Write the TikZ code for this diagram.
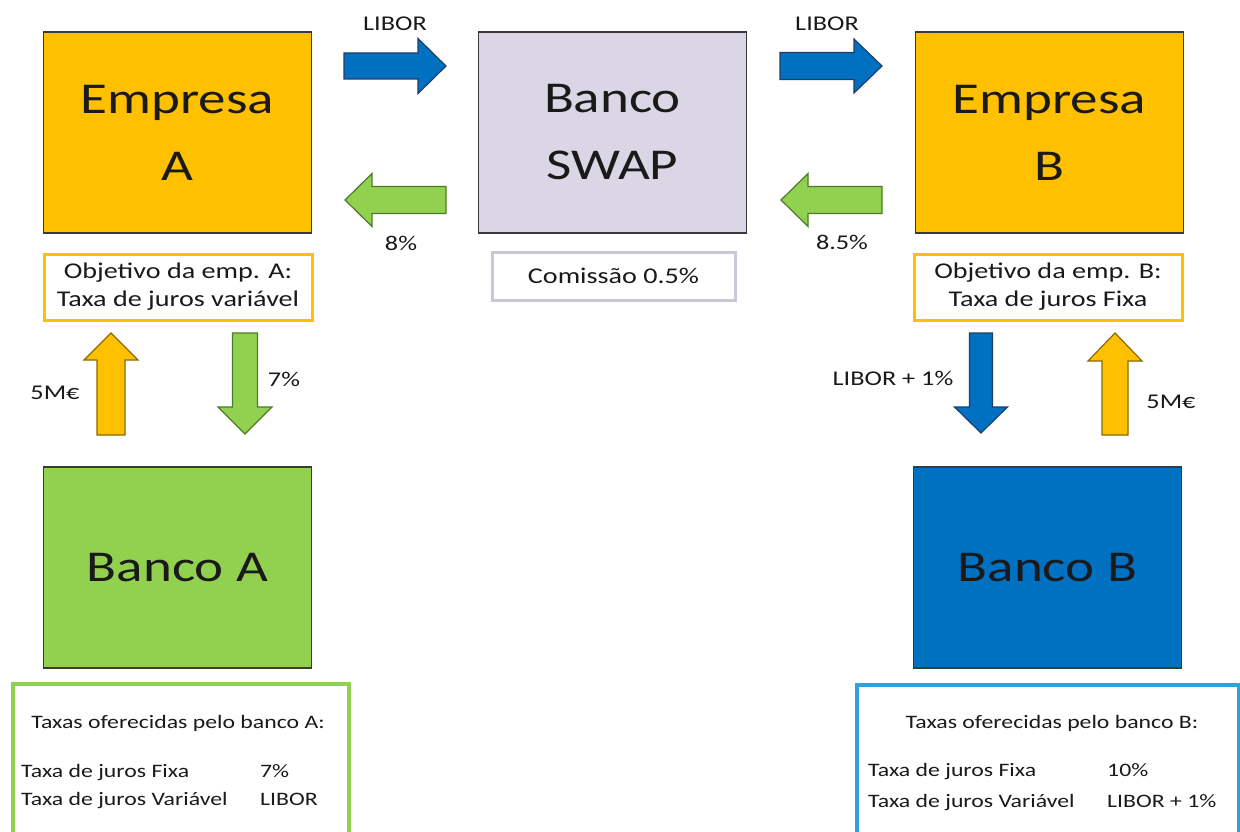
\documentclass[tikz,border=0pt]{standalone}
\usepackage{fontspec}
\setmainfont{Carlito}
\usepackage{graphicx}

% Office palette
\definecolor{gold}{HTML}{FFC000}
\definecolor{goldline}{HTML}{8A6A00}
\definecolor{leaf}{HTML}{92D050}
\definecolor{leafline}{HTML}{4F7A2A}
\definecolor{ocean}{HTML}{0070C0}
\definecolor{oceanline}{HTML}{1F3F6A}
\definecolor{lilac}{HTML}{DAD6E5}
\definecolor{lilacline}{HTML}{CBC7D8}
\definecolor{frame}{HTML}{3A3A3A}
\definecolor{sky}{HTML}{2FA3D9}
\definecolor{ink}{HTML}{1A1A1A}

% slightly widened lettering
\newcommand\wide[1]{\scalebox{1.25}[1]{#1}}

% block arrow: tail point, direction angle, length, shaft half width, head half width, head length, style
\newcommand\blockarrow[7]{%
  \begin{scope}[shift={(#1)},rotate=#2]
    \path[#7] (0,-#4) -- ({#3-#6},-#4) -- ({#3-#6},-#5) -- (#3,0)
      -- ({#3-#6},#5) -- ({#3-#6},#4) -- (0,#4) -- cycle;
  \end{scope}}

\tikzset{
  bigbox/.style={draw=frame, line width=1.6pt, minimum width=268pt, minimum height=201pt,
    inner sep=0pt, align=center, text=ink, font=\fontsize{44}{67}\selectfont},
  goalbox/.style={draw=gold, line width=3pt, minimum width=268pt, minimum height=66pt,
    inner sep=0pt, align=center, text=ink, font=\fontsize{22.5}{28}\selectfont},
  tablebox/.style={line width=4pt, anchor=north west, minimum width=336pt,
    minimum height=170pt, inner sep=0pt},
  lbl/.style={text=ink, inner sep=0pt, font=\fontsize{21}{25}\selectfont},
  row/.style={text=ink, inner sep=0pt, anchor=base west, font=\fontsize{19}{23}\selectfont},
  bluearrow/.style={fill=ocean, draw=oceanline, line width=1.2pt, line join=miter},
  greenarrow/.style={fill=leaf, draw=leafline, line width=1.2pt, line join=miter},
  goldarrow/.style={fill=gold, draw=goldline, line width=1.2pt, line join=miter},
}

\begin{document}
\begin{tikzpicture}[x=1pt,y=-1pt]
\useasboundingbox[fill=white] (0,0) rectangle (1240,832);

% main parties
\node[bigbox, fill=gold]  (empA) at (177.5,132.5) {\wide{Empresa}\\\wide{A}};
\node[bigbox, fill=lilac] (swap) at (612.5,132.5) {\wide{Banco}\\\wide{SWAP}};
\node[bigbox, fill=gold]  (empB) at (1049.5,132.5) {\wide{Empresa}\\\wide{B}};
\node[bigbox, fill=leaf]  (bankA) at (177.5,567.5) {\wide{Banco A}};
\node[bigbox, fill=ocean] (bankB) at (1047.5,567.5) {\wide{Banco B}};

% goals and commission
\node[goalbox] (goalA) at (178,287) {\wide{Objetivo da emp. A:}\\\wide{Taxa de juros variável}};
\node[goalbox] (goalB) at (1048,287) {\wide{Objetivo da emp. B:}\\\wide{Taxa de juros Fixa}};
\node[draw=lilacline, line width=3pt, minimum width=243pt, minimum height=48pt, inner sep=0pt,
  text=ink, font=\fontsize{22.5}{28}\selectfont] (fee) at (613.5,276) {\wide{Comissão 0.5\%}};

% flows between the companies and the swap bank
\blockarrow{344,66}{0}{102}{13}{27.5}{28}{bluearrow}
\blockarrow{446,200}{180}{101}{13.5}{26.5}{27}{greenarrow}
\blockarrow{780,66}{0}{102}{13.5}{27}{28}{bluearrow}
\blockarrow{882,200}{180}{101}{13.5}{26.5}{27}{greenarrow}

% flows between the companies and their banks
\blockarrow{111,435}{90}{102}{14}{27}{27}{goldarrow}
\blockarrow{245,333}{-90}{101}{12.5}{27}{27}{greenarrow}
\blockarrow{981,333}{-90}{100}{11.5}{26.5}{26}{bluearrow}
\blockarrow{1115,435}{90}{102}{13}{27}{28}{goldarrow}

% flow labels
\node[lbl] (l1) at (395,24) {\wide{LIBOR}};
\node[lbl] (l2) at (401,243) {\wide{8\%}};
\node[lbl] (l3) at (827,24) {\wide{LIBOR}};
\node[lbl] (l4) at (842,242) {\wide{8.5\%}};
\node[lbl] (l5) at (55,393) {\wide{5M€}};
\node[lbl] (l6) at (284,379) {\wide{7\%}};
\node[lbl] (l7) at (893,378) {\wide{LIBOR + 1\%}};
\node[lbl] (l8) at (1171,402) {\wide{5M€}};

% rate tables
\node[tablebox, draw=leaf] (tabA) at (11,682) {};
\node[text=ink, inner sep=0pt, anchor=base, font=\fontsize{19}{23}\selectfont] (tA0) at (178,728) {\wide{Taxas oferecidas pelo banco A:}};
\node[row] (tA1) at (21,777) {\wide{Taxa de juros Fixa}};
\node[row] (tA2) at (260,777) {\wide{7\%}};
\node[row] (tA3) at (21,805) {\wide{Taxa de juros Variável}};
\node[row] (tA4) at (260,805) {\wide{LIBOR}};

\node[tablebox, draw=sky, minimum width=382pt] (tabB) at (855,683) {};
\node[text=ink, inner sep=0pt, anchor=base, font=\fontsize{19}{23}\selectfont] (tB0) at (1052,728) {\wide{Taxas oferecidas pelo banco B:}};
\node[row] (tB1) at (868,776) {\wide{Taxa de juros Fixa}};
\node[row] (tB2) at (1107,776) {\wide{10\%}};
\node[row] (tB3) at (868,807) {\wide{Taxa de juros Variável}};
\node[row] (tB4) at (1107,807) {\wide{LIBOR + 1\%}};
\end{tikzpicture}
\end{document}
